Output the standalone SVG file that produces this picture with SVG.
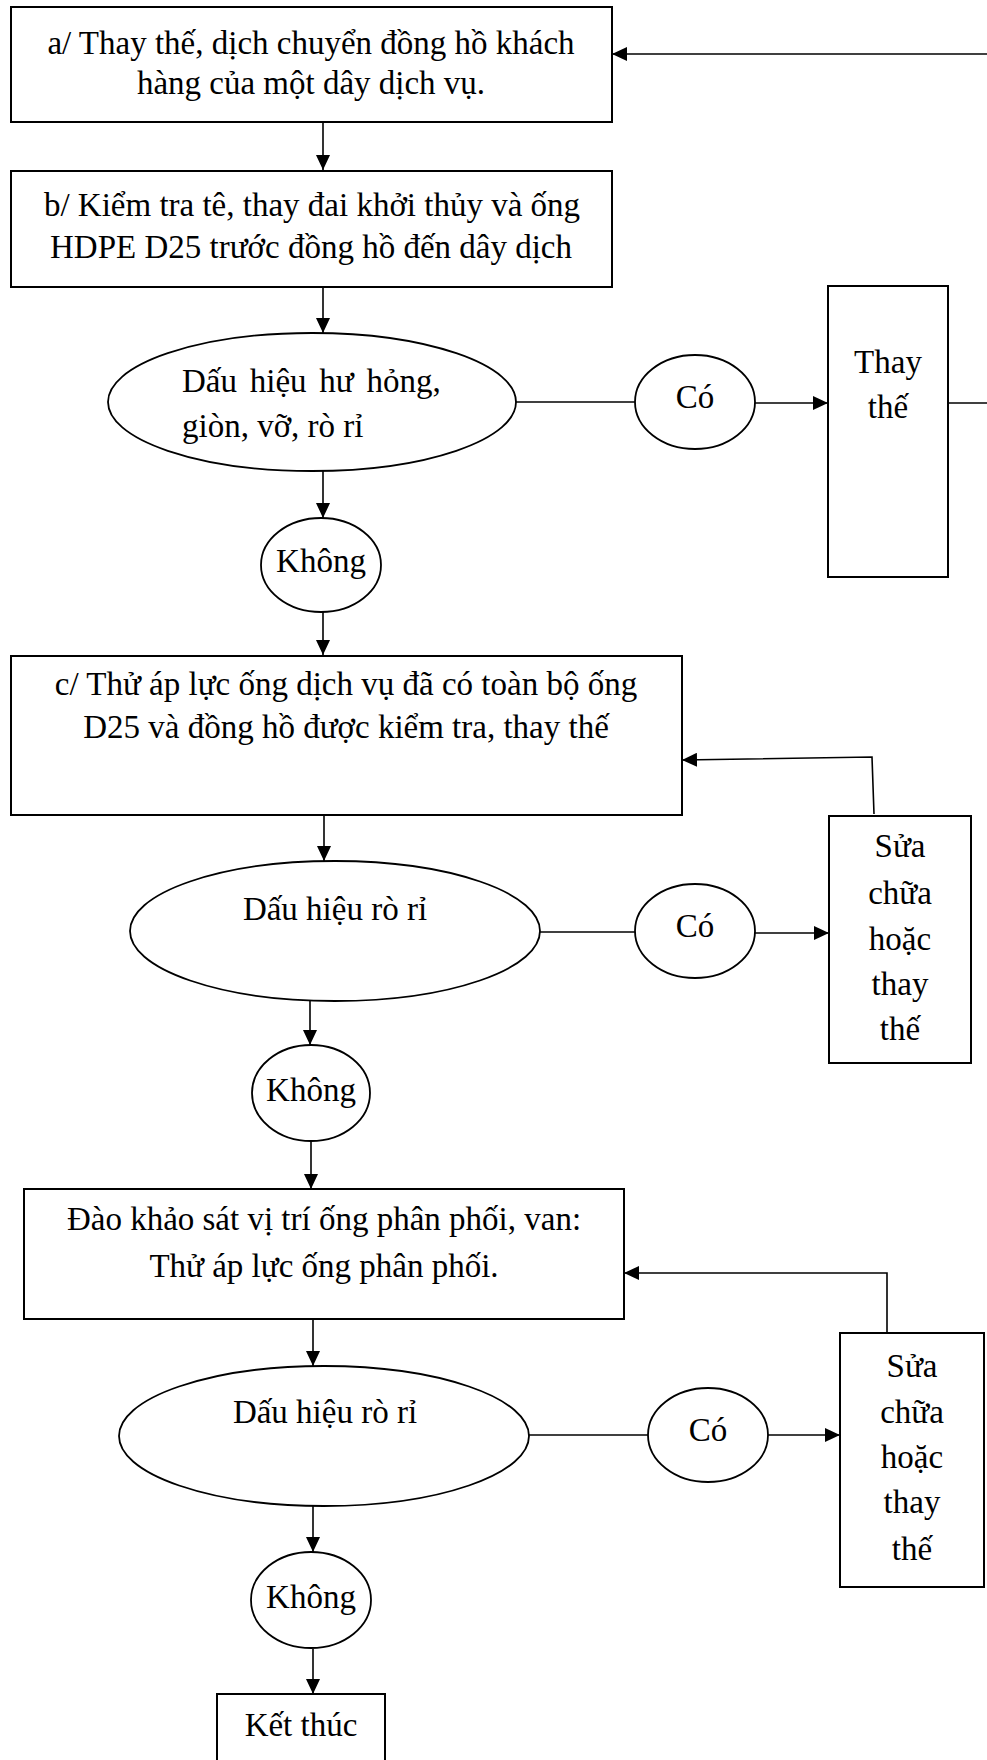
<svg xmlns="http://www.w3.org/2000/svg" width="987" height="1760" viewBox="0 0 987 1760">
<style>
text{font-family:"Liberation Serif","Times New Roman",serif;font-size:33px;fill:#000}
.c{text-anchor:middle}
.box{fill:#fff;stroke:#000;stroke-width:2}
.ell{fill:#fff;stroke:#000;stroke-width:1.8}
.ln{fill:none;stroke:#000;stroke-width:1.6}
.arr{fill:none;stroke:#000;stroke-width:1.6;marker-end:url(#ah)}
</style>
<defs>
<marker id="ah" markerUnits="userSpaceOnUse" markerWidth="16" markerHeight="14" refX="15" refY="7" orient="auto">
<path d="M0,0 L15,7 L0,14 z" fill="#000"/>
</marker>
</defs>
<rect width="987" height="1760" fill="#fff"/>
<g id="connectors">
<path class="arr" d="M987,54 L612,54"/>
<path class="arr" d="M323,122 L323,170"/>
<path class="arr" d="M323,287 L323,333"/>
<path class="ln" d="M516,402 L636,402"/>
<path class="arr" d="M755,403 L828,403"/>
<path class="ln" d="M948,403 L987,403"/>
<path class="arr" d="M323,471 L323,518"/>
<path class="arr" d="M323,612 L323,655"/>
<path class="arr" d="M324,815 L324,861"/>
<path class="ln" d="M540,932 L636,932"/>
<path class="arr" d="M755,933 L829,933"/>
<path class="arr" d="M874,814 L872,757 L682,760"/>
<path class="arr" d="M310,1001 L310,1045"/>
<path class="arr" d="M311,1141 L311,1189"/>
<path class="arr" d="M313,1319 L313,1366"/>
<path class="ln" d="M529,1435 L648,1435"/>
<path class="arr" d="M768,1435 L840,1435"/>
<path class="arr" d="M887,1333 L887,1273 L624,1273"/>
<path class="arr" d="M313,1505 L313,1552"/>
<path class="arr" d="M313,1649 L313,1694"/>
</g>
<g id="box-a">
<rect class="box" x="11" y="7" width="601" height="115"/>
<text class="c" x="311" y="54">a/ Thay thế, dịch chuyển đồng hồ khách</text>
<text class="c" x="311" y="94">hàng của một dây dịch vụ.</text>
</g>
<g id="box-b">
<rect class="box" x="11" y="171" width="601" height="116"/>
<text class="c" x="312" y="216">b/ Kiểm tra tê, thay đai khởi thủy và ống</text>
<text class="c" x="311" y="258">HDPE D25 trước đồng hồ đến dây dịch</text>
</g>
<g id="dec-1">
<ellipse class="ell" cx="312" cy="402" rx="204" ry="69"/>
<text x="182" y="392" word-spacing="4.5">Dấu hiệu hư hỏng,</text>
<text x="182" y="437">giòn, vỡ, rò rỉ</text>
</g>
<g id="co-1">
<ellipse class="ell" cx="695" cy="402" rx="60" ry="47"/>
<text class="c" x="695" y="408">Có</text>
</g>
<g id="thay-the">
<rect class="box" x="828" y="286" width="120" height="291"/>
<text class="c" x="888" y="373">Thay</text>
<text class="c" x="888" y="418">thế</text>
</g>
<g id="khong-1">
<ellipse class="ell" cx="321" cy="565" rx="60" ry="47"/>
<text class="c" x="321" y="572">Không</text>
</g>
<g id="box-c">
<rect class="box" x="11" y="656" width="671" height="159"/>
<text class="c" x="346" y="695">c/ Thử áp lực ống dịch vụ đã có toàn bộ ống</text>
<text class="c" x="346" y="738">D25 và đồng hồ được kiểm tra, thay thế</text>
</g>
<g id="dec-2">
<ellipse class="ell" cx="335" cy="931" rx="205" ry="70"/>
<text class="c" x="335" y="920">Dấu hiệu rò rỉ</text>
</g>
<g id="co-2">
<ellipse class="ell" cx="695" cy="931" rx="60" ry="47"/>
<text class="c" x="695" y="937">Có</text>
</g>
<g id="sua-1">
<rect class="box" x="829" y="816" width="142" height="247"/>
<text class="c" x="900" y="857">Sửa</text>
<text class="c" x="900" y="904">chữa</text>
<text class="c" x="900" y="950">hoặc</text>
<text class="c" x="900" y="995">thay</text>
<text class="c" x="900" y="1040">thế</text>
</g>
<g id="khong-2">
<ellipse class="ell" cx="311" cy="1093" rx="59" ry="48"/>
<text class="c" x="311" y="1101">Không</text>
</g>
<g id="box-d">
<rect class="box" x="24" y="1189" width="600" height="130"/>
<text class="c" x="324" y="1230">Đào khảo sát vị trí ống phân phối, van:</text>
<text class="c" x="324" y="1277">Thử áp lực ống phân phối.</text>
</g>
<g id="dec-3">
<ellipse class="ell" cx="324" cy="1436" rx="205" ry="70"/>
<text class="c" x="325" y="1423">Dấu hiệu rò rỉ</text>
</g>
<g id="co-3">
<ellipse class="ell" cx="708" cy="1435" rx="60" ry="47"/>
<text class="c" x="708" y="1441">Có</text>
</g>
<g id="sua-2">
<rect class="box" x="840" y="1333" width="144" height="254"/>
<text class="c" x="912" y="1377">Sửa</text>
<text class="c" x="912" y="1423">chữa</text>
<text class="c" x="912" y="1468">hoặc</text>
<text class="c" x="912" y="1513">thay</text>
<text class="c" x="912" y="1560">thế</text>
</g>
<g id="khong-3">
<ellipse class="ell" cx="311" cy="1600" rx="60" ry="48"/>
<text class="c" x="311" y="1608">Không</text>
</g>
<g id="ket-thuc">
<rect class="box" x="217" y="1694" width="168" height="70"/>
<text class="c" x="301" y="1736">Kết thúc</text>
</g>
</svg>
